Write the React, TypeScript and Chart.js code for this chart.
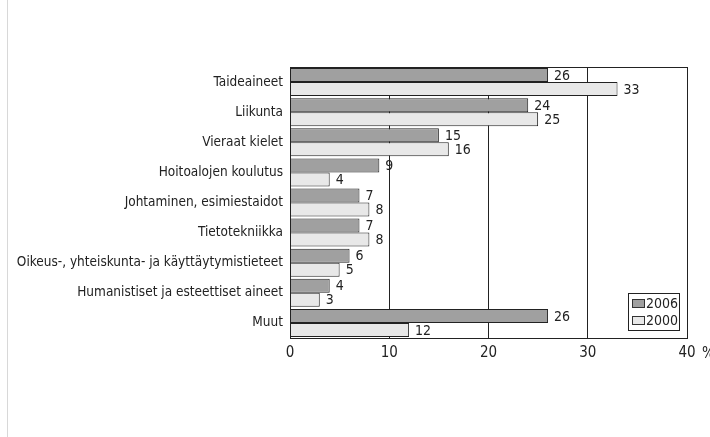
import React, { useEffect, useRef } from "react";
import { Chart, registerables } from "chart.js";

Chart.register(...registerables);

const categories = [
  "Taideaineet",
  "Liikunta",
  "Vieraat kielet",
  "Hoitoalojen koulutus",
  "Johtaminen, esimiestaidot",
  "Tietotekniikka",
  "Oikeus-, yhteiskunta- ja käyttäytymistieteet",
  "Humanistiset ja esteettiset aineet",
  "Muut",
];
const values2006 = [26, 24, 15, 9, 7, 7, 6, 4, 26];
const values2000 = [33, 25, 16, 4, 8, 8, 5, 3, 12];
const seriesLabels = ["2006", "2000"];
const xTicks = [0, 10, 20, 30, 40];
const unitLabel = "%";

const FONT = "'DejaVu Sans Condensed', 'DejaVu Sans', sans-serif";
const COLORS = ["#a0a0a0", "#e8e8e8"];

const extras = {
  id: "extras",
  afterDatasetsDraw(chart: any) {
    const ctx = chart.ctx;
    ctx.save();
    ctx.font = `14px ${FONT}`;
    ctx.fillStyle = "#222";
    ctx.textBaseline = "middle";
    ctx.textAlign = "left";
    chart.data.datasets.forEach((ds: any, di: number) => {
      const meta = chart.getDatasetMeta(di);
      meta.data.forEach((bar: any, i: number) => {
        ctx.fillText(String(ds.data[i]), bar.x + 6, bar.y + 1);
      });
    });
    // legend box inside chart area
    const a = chart.chartArea;
    const bx = a.right - 59;
    const by = a.bottom - 45;
    const bw = 51;
    const bh = 37;
    ctx.fillStyle = "#fff";
    ctx.fillRect(bx, by, bw, bh);
    ctx.strokeStyle = "#222";
    ctx.lineWidth = 1;
    ctx.strokeRect(bx + 0.5, by + 0.5, bw, bh);
    seriesLabels.forEach((lab, k) => {
      const cy = by + 10 + k * 17;
      ctx.fillStyle = COLORS[k];
      ctx.fillRect(bx + 4, cy - 4, 12, 8);
      ctx.strokeStyle = "#333";
      ctx.strokeRect(bx + 4.5, cy - 3.5, 12, 8);
      ctx.fillStyle = "#222";
      ctx.font = `14px ${FONT}`;
      ctx.fillText(lab, bx + 18, cy + 1);
    });
    // unit after the last x tick
    const xs = chart.scales.x;
    ctx.font = `15px ${FONT}`;
    ctx.textBaseline = "middle";
    ctx.fillText(unitLabel, xs.getPixelForValue(40) + 15, a.bottom + 16);
    ctx.restore();
  },
};

export default function App() {
  const ref = useRef<HTMLCanvasElement>(null);
  useEffect(() => {
    const chart = new Chart(ref.current!, {
      type: "bar",
      data: {
        labels: categories,
        datasets: [
          {
            label: seriesLabels[0],
            data: values2006,
            backgroundColor: COLORS[0],
            borderColor: "#222",
            borderWidth: 1,
            categoryPercentage: 0.93,
            barPercentage: 1,
          },
          {
            label: seriesLabels[1],
            data: values2000,
            backgroundColor: COLORS[1],
            borderColor: "#222",
            borderWidth: 1,
            categoryPercentage: 0.93,
            barPercentage: 1,
          },
        ],
      },
      options: {
        indexAxis: "y",
        animation: false,
        responsive: false,
        maintainAspectRatio: false,
        layout: { padding: { top: 67, right: 23, left: 0, bottom: 0 } },
        plugins: {
          legend: { display: false },
          tooltip: { enabled: false },
        },
        scales: {
          x: {
            min: 0,
            max: 40,
            afterBuildTicks: (s: any) => {
              s.ticks = xTicks.map((v) => ({ value: v }));
            },
            afterFit: (s: any) => {
              s.height = 99;
            },
            grid: {
              color: "#222",
              lineWidth: 1,
              drawTicks: false,
            },
            border: { display: true, color: "#222" },
            ticks: {
              padding: 6,
              color: "#222",
              font: { family: FONT, size: 15 },
              callback: (v: any) => String(v),
            },
          },
          y: {
            afterFit: (s: any) => {
              s.width = 290;
            },
            grid: { display: false, drawTicks: false },
            border: { display: true, color: "#222" },
            ticks: {
              padding: 7,
              color: "#222",
              font: { family: FONT, size: 13.5 },
            },
          },
        },
      },
      plugins: [
        extras,
        {
          id: "frame",
          afterDraw(chart: any) {
            const { ctx, chartArea: a } = chart;
            ctx.save();
            ctx.strokeStyle = "#222";
            ctx.lineWidth = 1;
            ctx.strokeRect(a.left + 0.5, a.top + 0.5, a.right - a.left, a.bottom - a.top);
            ctx.restore();
          },
        },
      ],
    });
    return () => chart.destroy();
  }, []);
  return (
    <div style={{ position: "absolute", left: 0, top: 0, width: 710, height: 437, background: "#fff" }}>
      <div style={{ position: "absolute", left: 7, top: 0, width: 1, height: 437, background: "#d8d8d8" }} />
      <canvas ref={ref} width={710} height={437} style={{ position: "absolute", left: 0, top: 0 }} />
    </div>
  );
}
